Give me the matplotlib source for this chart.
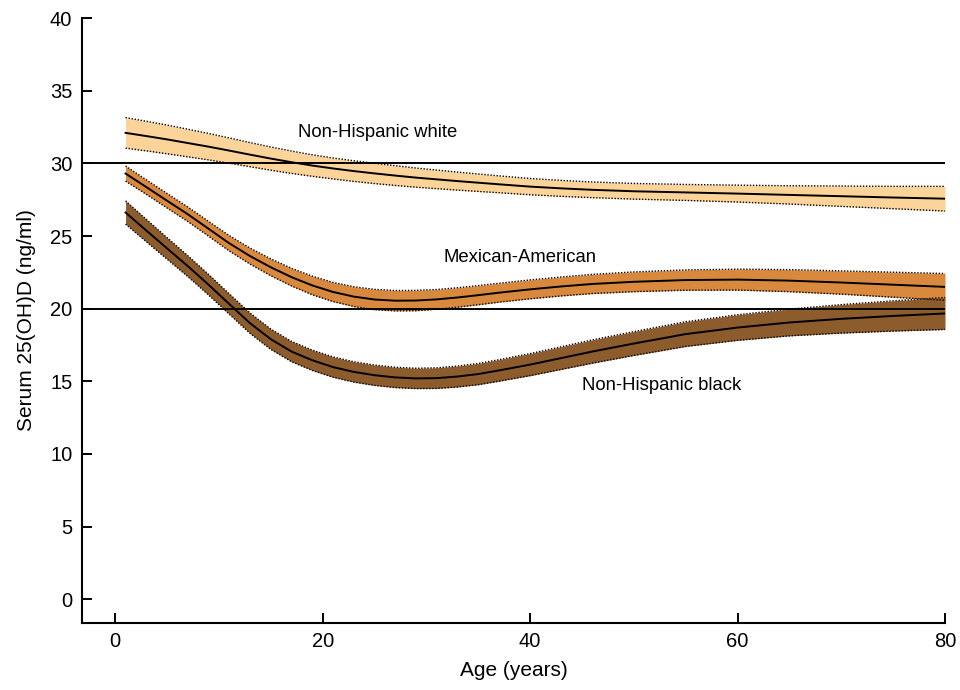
import numpy as np
import matplotlib
matplotlib.use("Agg")
import matplotlib.pyplot as plt

plt.rcParams['font.family'] = ['Liberation Sans', 'DejaVu Sans']

alter = [1, 3, 5, 7, 9, 11, 13, 15, 17, 19, 21, 23, 25, 27, 29, 31, 33, 35, 37,
         40, 43, 46, 50, 55, 60, 65, 70, 75, 80]

# Mittelwerte Serum 25(OH)D (ng/ml)
weiss_mittel = [32.1, 31.88, 31.65, 31.4, 31.15, 30.88, 30.6, 30.33, 30.08, 29.85, 29.65,
                29.47, 29.31, 29.16, 29.02, 28.9, 28.78, 28.67, 28.56,
                28.4, 28.28, 28.18, 28.08, 28.0, 27.92, 27.83, 27.74, 27.65, 27.57]
mexiko_mittel = [29.3, 28.37, 27.43, 26.5, 25.5, 24.5, 23.62, 22.85, 22.17, 21.6, 21.15,
                 20.83, 20.63, 20.55, 20.56, 20.64, 20.77, 20.93, 21.1,
                 21.33, 21.53, 21.7, 21.85, 21.97, 22.0, 21.93, 21.8, 21.65, 21.5]
schwarz_mittel = [26.62, 25.38, 24.15, 22.93, 21.65, 20.32, 19.0, 17.9, 17.05, 16.45, 15.98,
                  15.65, 15.42, 15.27, 15.2, 15.22, 15.33, 15.5, 15.75,
                  16.15, 16.6, 17.05, 17.6, 18.25, 18.7, 19.05, 19.3, 19.5, 19.67]

# halbe Breite des Konfidenzbandes
weiss_ci = [1.05, 1.02, 0.99, 0.95, 0.91, 0.87, 0.83, 0.8, 0.77, 0.74, 0.72, 0.71, 0.7,
            0.68, 0.66, 0.64, 0.62, 0.6, 0.58, 0.56, 0.55, 0.54, 0.54, 0.55, 0.58,
            0.63, 0.7, 0.77, 0.85]
mexiko_ci = [0.52, 0.5, 0.5, 0.5, 0.51, 0.53, 0.55, 0.58, 0.61, 0.64, 0.66, 0.68, 0.7,
             0.7, 0.7, 0.68, 0.67, 0.66, 0.65, 0.65, 0.65, 0.66, 0.68, 0.7, 0.72,
             0.76, 0.8, 0.86, 0.92]
schwarz_ci = [0.8, 0.77, 0.74, 0.72, 0.71, 0.7, 0.7, 0.7, 0.7, 0.7, 0.7, 0.7, 0.7,
              0.7, 0.7, 0.71, 0.72, 0.73, 0.74, 0.76, 0.78, 0.8, 0.82, 0.85, 0.88,
              0.92, 0.98, 1.04, 1.1]

gruppen = ['Non-Hispanic white', 'Mexican-American', 'Non-Hispanic black']
farben = ['#FCD399', '#D8893E', '#8C5C2D']
label_pos = [(25.3, 32.1), (39.0, 23.55), (52.7, 14.7)]

fig = plt.figure(figsize=(9.6, 6.9), dpi=100)
ax = fig.add_axes([0.0854, 0.0978, 0.899, 0.876])

x = np.array(alter)
for mittel, ci, farbe, name, pos in zip([weiss_mittel, mexiko_mittel, schwarz_mittel],
                                        [weiss_ci, mexiko_ci, schwarz_ci],
                                        farben, gruppen, label_pos):
    m = np.array(mittel)
    c = np.array(ci)
    ax.fill_between(x, m - c, m + c, color=farbe, lw=0, zorder=2)
    ax.plot(x, m + c, color='black', lw=1.0, ls=(0, (1, 1.2)), zorder=3)
    ax.plot(x, m - c, color='black', lw=1.0, ls=(0, (1, 1.2)), zorder=3)
    ax.plot(x, m, color='black', lw=1.4, zorder=4)
    ax.text(pos[0], pos[1], name, ha='center', va='center', fontsize=13.3)

# Referenzlinien 20 und 30 ng/ml
for y in [20, 30]:
    ax.axhline(y, color='black', lw=1.4, zorder=5)

ax.set_xlim(-3.2, 80)
ax.set_ylim(-1.6, 40)
ax.set_xticks([0, 20, 40, 60, 80])
ax.set_yticks(range(0, 41, 5))
ax.spines['top'].set_visible(False)
ax.spines['right'].set_visible(False)
ax.spines['left'].set_linewidth(1.5)
ax.spines['bottom'].set_linewidth(1.5)
ax.tick_params(direction='in', length=7.5, width=1.4, labelsize=14.5, pad=7)

ax.set_xlabel("Age (years)", fontsize=15, labelpad=7)
ax.set_ylabel("Serum 25(OH)D (ng/ml)", fontsize=15, labelpad=10)

plt.savefig("out.png", dpi=100)
